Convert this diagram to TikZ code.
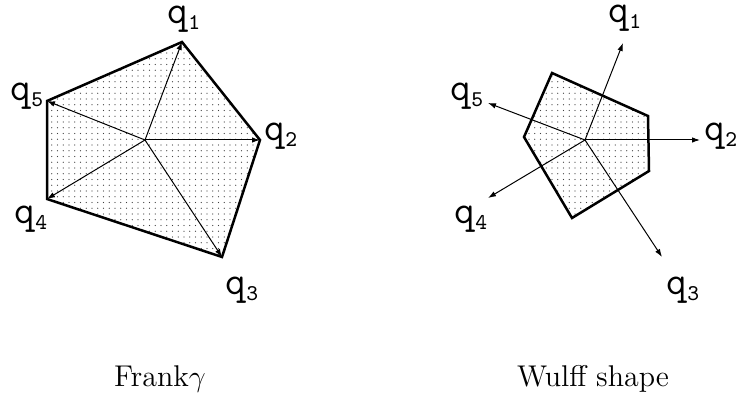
\documentclass[tikz,border=0pt]{standalone}
\usepackage{tikz}
\usetikzlibrary{arrows.meta,patterns.meta}
\newcommand{\qlab}[1]{{\ttfamily\fontsize{16}{16}\selectfont q}\raisebox{-2.4pt}{\ttfamily\fontsize{9}{9}\selectfont #1}}
\tikzset{
  facet/.style={draw=black,line width=1pt,line join=miter,
    pattern={Dots[distance=2.3pt,radius=0.22pt]},pattern color=black!75},
  normal/.style={-{Latex[length=3.2pt,width=2.2pt]},line width=0.4pt},
  qname/.style={inner sep=0pt},
  figcap/.style={font=\large,inner sep=0pt,anchor=base},
}

\begin{document}
\begin{tikzpicture}[x=0.4pt,y=-0.4pt]
  \useasboundingbox (0,0) rectangle (739,398);
  % ---- left: the Frank diagram ----
  \coordinate (c) at (145,140);
  \coordinate (f1) at (182,42);
  \coordinate (f2) at (260,140);
  \coordinate (f3) at (222,257);
  \coordinate (f4) at (47,199);
  \coordinate (f5) at (47,101);
  \draw[facet] (f1)--(f2)--(f3)--(f4)--(f5)--cycle;
  \foreach \i in {1,...,5} \draw[normal] (c)--(f\i);
  \node[qname] (lq1) at (184,19)  {\qlab{1}};
  \node[qname] (lq2) at (281,136) {\qlab{2}};
  \node[qname] (lq3) at (242,290) {\qlab{3}};
  \node[qname] (lq4) at (31,219)  {\qlab{4}};
  \node[qname] (lq5) at (27,96)   {\qlab{5}};
  \node[figcap] (capl) at (160,387) {Frank$\gamma$};
  % ---- right: the Wulff shape ----
  \coordinate (w) at (585,140);
  \coordinate (w1) at (552,73);
  \coordinate (w2) at (648,116);
  \coordinate (w3) at (649,171);
  \coordinate (w4) at (572,218);
  \coordinate (w5) at (524,137);
  \draw[facet] (w1)--(w2)--(w3)--(w4)--(w5)--cycle;
  \coordinate (n1) at (623,43);
  \coordinate (n2) at (700,140);
  \coordinate (n3) at (662,257);
  \coordinate (n4) at (488,198);
  \coordinate (n5) at (488,103);
  \foreach \i in {1,...,5} \draw[normal] (w)--(n\i);
  \node[qname] (rq1) at (625,18)  {\qlab{1}};
  \node[qname] (rq2) at (721,136) {\qlab{2}};
  \node[qname] (rq3) at (683,290) {\qlab{3}};
  \node[qname] (rq4) at (471,219) {\qlab{4}};
  \node[qname] (rq5) at (467,96)  {\qlab{5}};
  \node[figcap] (capr) at (593,387) {Wulff shape};
\end{tikzpicture}
\end{document}
